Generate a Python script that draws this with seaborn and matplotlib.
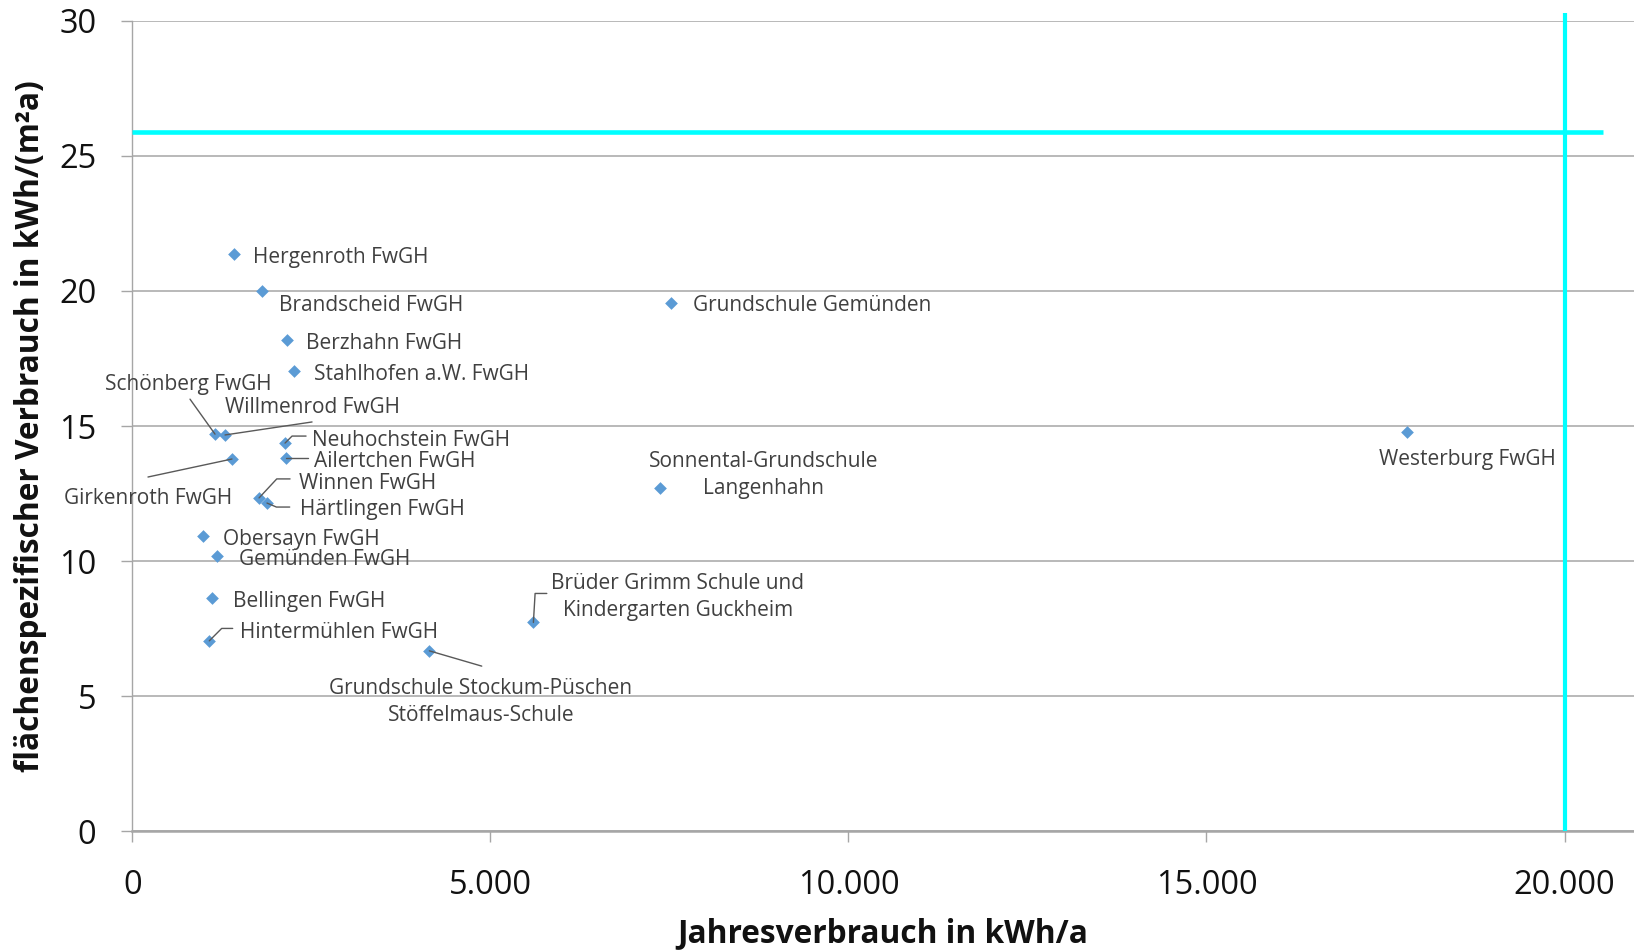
import matplotlib
matplotlib.use("Agg")
import matplotlib.pyplot as plt
import matplotlib.transforms as mtransforms
from matplotlib.ticker import FuncFormatter, MultipleLocator
import seaborn as sns
import pandas as pd

# Buildings: annual consumption (kWh/a) and area-specific consumption (kWh/(m²a))
names = [
    "Hergenroth FwGH", "Brandscheid FwGH", "Berzhahn FwGH", "Stahlhofen a.W. FwGH",
    "Schönberg FwGH", "Willmenrod FwGH", "Neuhochstein FwGH", "Ailertchen FwGH",
    "Girkenroth FwGH", "Winnen FwGH", "Härtlingen FwGH", "Obersayn FwGH",
    "Gemünden FwGH", "Bellingen FwGH", "Hintermühlen FwGH",
    "Grundschule Stockum-Püschen\nStöffelmaus-Schule",
    "Brüder Grimm Schule und\nKindergarten Guckheim",
    "Grundschule Gemünden", "Sonnental-Grundschule\nLangenhahn", "Westerburg FwGH",
]
annual_kwh = [1425, 1807, 2165, 2263, 1155, 1295, 2133, 2147, 1392, 1770, 1881,
              992, 1187, 1109, 1075, 4148, 5601, 7524, 7374, 17797]
specific_kwh_m2 = [21.35, 20.0, 18.18, 17.05, 14.70, 14.67, 14.37, 13.82, 13.78,
                   12.34, 12.15, 10.93, 10.20, 8.62, 7.05, 6.68, 7.73, 19.56, 12.71, 14.78]

# Reference limits
limit_specific = 25.88
limit_annual = 20000

df = pd.DataFrame({"name": names, "annual": annual_kwh, "specific": specific_kwh_m2})

# Label placement: pixel offset of the label from its point (x right, y down),
# horizontal alignment, and optional leader-line vertices (pixel offsets).
label_layout = {
    "Hergenroth FwGH": (19, 1, "left", None),
    "Brandscheid FwGH": (17, 12, "left", None),
    "Berzhahn FwGH": (19, 1, "left", None),
    "Stahlhofen a.W. FwGH": (20, 1, "left", None),
    "Schönberg FwGH": (-26.5, -52, "center", [(0, 0), (-25, -35)]),
    "Willmenrod FwGH": (87.5, -30, "center", [(0, 0), (87, -13)]),
    "Neuhochstein FwGH": (26.5, -5.5, "left", [(0, 0), (7, -7), (21, -7)]),
    "Ailertchen FwGH": (27.6, 1.5, "left", [(0, 0), (22, 0)]),
    "Girkenroth FwGH": (-84, 37, "center", [(0, 0), (-84, 18)]),
    "Winnen FwGH": (40, -16.5, "left", [(0, 0), (17.7, -19), (31, -19)]),
    "Härtlingen FwGH": (33, 4, "left", [(0, 0), (9.4, 4), (22.7, 4)]),
    "Obersayn FwGH": (20, 0.7, "left", None),
    "Gemünden FwGH": (22, 1, "left", None),
    "Bellingen FwGH": (21.6, 1, "left", None),
    "Hintermühlen FwGH": (30.7, -10.7, "left", [(0, 0), (12.4, -12.4), (23.4, -12.4)]),
    "Grundschule Stockum-Püschen\nStöffelmaus-Schule": (51.7, 49, "center", [(0, 0), (52.4, 15.3)]),
    "Brüder Grimm Schule und\nKindergarten Guckheim": (144.2, -28.1, "center",
                                                        [(0, 0), (1.7, -29), (13.4, -29)]),
    "Grundschule Gemünden": (21.7, 0.6, "left", None),
    "Sonnental-Grundschule\nLangenhahn": (103.2, -15, "center", None),
    "Westerburg FwGH": (60.3, 25.4, "center", None),
}
# Open Sans sits a little higher than the label boxes expect; nudge text down
text_nudge = 2.5

sns.set_theme(style="white")
plt.rcParams["font.family"] = ["Open Sans", "DejaVu Sans"]

W, H = 1634, 951
fig = plt.figure(figsize=(W / 100, H / 100), dpi=100)
ax_left, ax_top, ax_bottom = 132.3, 20.8, 831.3
ax = fig.add_axes([ax_left / W, 1 - ax_bottom / H, 1 - ax_left / W, (ax_bottom - ax_top) / H])

grid_col = "#A6A6A6"
ax.set_xlim(0, 20970)
ax.set_ylim(0, 30)
ax.yaxis.set_major_locator(MultipleLocator(5))
ax.xaxis.set_major_locator(MultipleLocator(5000))
ax.xaxis.set_major_formatter(FuncFormatter(lambda v, p: f"{int(v):,}".replace(",", ".")))
ax.grid(axis="y", color=grid_col, linewidth=1.1)
ax.grid(axis="x", visible=False)
for side in ("top", "right"):
    ax.spines[side].set_visible(False)
ax.spines["left"].set_color(grid_col)
ax.spines["left"].set_linewidth(1.0)
ax.spines["bottom"].set_color(grid_col)
ax.spines["bottom"].set_linewidth(1.8)
ax.tick_params(axis="both", which="major", direction="out", length=8, width=1,
               color=grid_col, labelsize=23.5, labelcolor="#111111", pad=18)
ax.tick_params(axis="x", pad=19)
ax.tick_params(left=True, bottom=True)

# Reference limit lines
ax.plot([0, 20540], [limit_specific, limit_specific], color="#00FFFF", lw=3.3,
        solid_capstyle="butt", zorder=3)
ax.plot([limit_annual, limit_annual], [0, 30.3], color="#00FFFF", lw=3.0,
        solid_capstyle="butt", clip_on=False, zorder=3)

sns.scatterplot(data=df, x="annual", y="specific", marker="D", s=42, color="#5B9BD5",
                linewidth=0, ax=ax, zorder=4, legend=False)

label_col = "#404040"
for nm, xv, yv in zip(names, annual_kwh, specific_kwh_m2):
    dx, dy, ha, leader = label_layout[nm]
    ax.annotate(nm, xy=(xv, yv), xytext=(dx, -(dy + text_nudge)), textcoords="offset pixels",
                ha=ha, va="center", fontsize=15, color=label_col,
                multialignment="center", linespacing=1.38, zorder=5)
    if leader:
        trans = mtransforms.IdentityTransform() + mtransforms.ScaledTranslation(xv, yv, ax.transData)
        ax.plot([p[0] for p in leader], [-p[1] for p in leader], color="#595959",
                lw=1.0, transform=trans, clip_on=False, zorder=4)

ax.set_xlabel("Jahresverbrauch in kWh/a", fontsize=22.8, fontweight="bold", color="#111111")
ax.set_ylabel("flächenspezifischer Verbrauch in kWh/(m²a)", fontsize=22.8,
              fontweight="bold", color="#111111")
ax.xaxis.label.set_va("center")
ax.xaxis.set_label_coords(0.5, (ax_bottom - 934) / (ax_bottom - ax_top))
ax.yaxis.label.set_va("center")
ax.yaxis.set_label_coords((31 - ax_left) / (W - ax_left), 0.5)

fig.savefig("out.png", dpi=100)
